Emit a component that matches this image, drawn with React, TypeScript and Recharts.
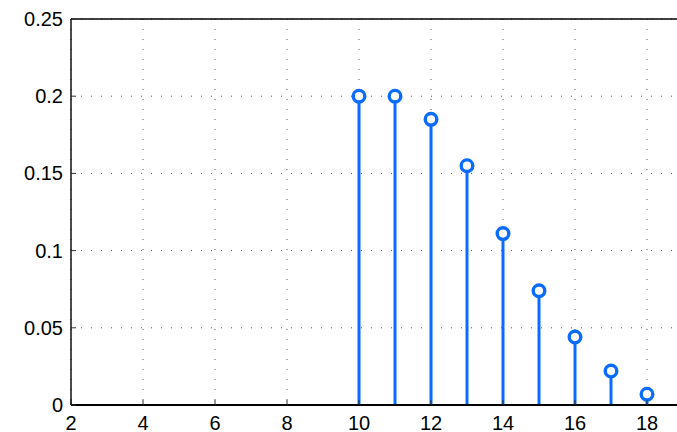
import React from "react";
import {
  ComposedChart,
  Bar,
  XAxis,
  YAxis,
  CartesianGrid,
  ReferenceLine,
} from "recharts";

// stem plot values
const xs = [10, 11, 12, 13, 14, 15, 16, 17, 18];
const ys = [0.2, 0.2, 0.185, 0.155, 0.111, 0.074, 0.044, 0.022, 0.007];
const xTicks = [2, 4, 6, 8, 10, 12, 14, 16, 18];
const yTicks = [0, 0.05, 0.1, 0.15, 0.2, 0.25];

const BLUE = "#0a6cff";
const FONT = "'Liberation Sans', Arial, sans-serif";

const data = xs.map((x, i) => ({ x, y: ys[i] }));

// stem: vertical line from baseline up to the value, open circle on top
function Stem(props: any) {
  const { x, y, width, height } = props;
  const cx = x + width / 2;
  return (
    <g>
      <line x1={cx} y1={y + height} x2={cx} y2={y} stroke={BLUE} strokeWidth={3} />
      <circle cx={cx} cy={y} r={5.8} fill="#fff" stroke={BLUE} strokeWidth={3.4} />
    </g>
  );
}

function XTick(props: any) {
  const { x, y, payload } = props;
  return (
    <text x={x} y={y} dy={19} textAnchor="middle" fontSize={20} fontFamily={FONT} fill="#000">
      {payload.value}
    </text>
  );
}

function YTick(props: any) {
  const { x, y, payload } = props;
  return (
    <text x={x} y={y} dy={7} textAnchor="end" fontSize={20} fontFamily={FONT} fill="#000">
      {payload.value}
    </text>
  );
}

const NoTick = () => null;

export default function App() {
  return (
    <div
      style={{
        position: "fixed",
        left: 0,
        top: 0,
        width: 677,
        height: 432,
        overflow: "hidden",
        background: "#fff",
      }}
    >
      <ComposedChart
        width={729}
        height={445}
        data={data}
        margin={{ top: 19, right: 10, bottom: 0, left: 0 }}
      >
        <CartesianGrid
          stroke="#555"
          strokeDasharray="1 9"
          horizontalValues={yTicks}
          verticalValues={[...xTicks, 20]}
        />
        <XAxis
          dataKey="x"
          type="number"
          domain={[2, 20]}
          ticks={xTicks}
          allowDataOverflow
          tickLine={{ stroke: "#333", strokeWidth: 1 }}
          tickSize={-5}
          axisLine={{ stroke: "#000", strokeWidth: 1.8 }}
          tick={<XTick />}
          tickMargin={11}
          height={40}
        />
        <XAxis
          xAxisId="top"
          orientation="top"
          dataKey="x"
          type="number"
          domain={[2, 20]}
          ticks={xTicks}
          allowDataOverflow
          tickLine={{ stroke: "#333", strokeWidth: 1 }}
          tickSize={-5}
          axisLine={{ stroke: "#000", strokeWidth: 1.4 }}
          tick={<NoTick />}
          height={0}
        />
        <YAxis
          type="number"
          domain={[0, 0.25]}
          ticks={yTicks}
          tickLine={{ stroke: "#333", strokeWidth: 1 }}
          tickSize={-5}
          axisLine={{ stroke: "#000", strokeWidth: 1.4 }}
          tick={<YTick />}
          tickMargin={13}
          width={71}
        />
        <ReferenceLine y={0.25} stroke="#000" strokeWidth={1.4} />
        <Bar dataKey="y" barSize={6} shape={<Stem />} isAnimationActive={false} />
      </ComposedChart>
    </div>
  );
}
